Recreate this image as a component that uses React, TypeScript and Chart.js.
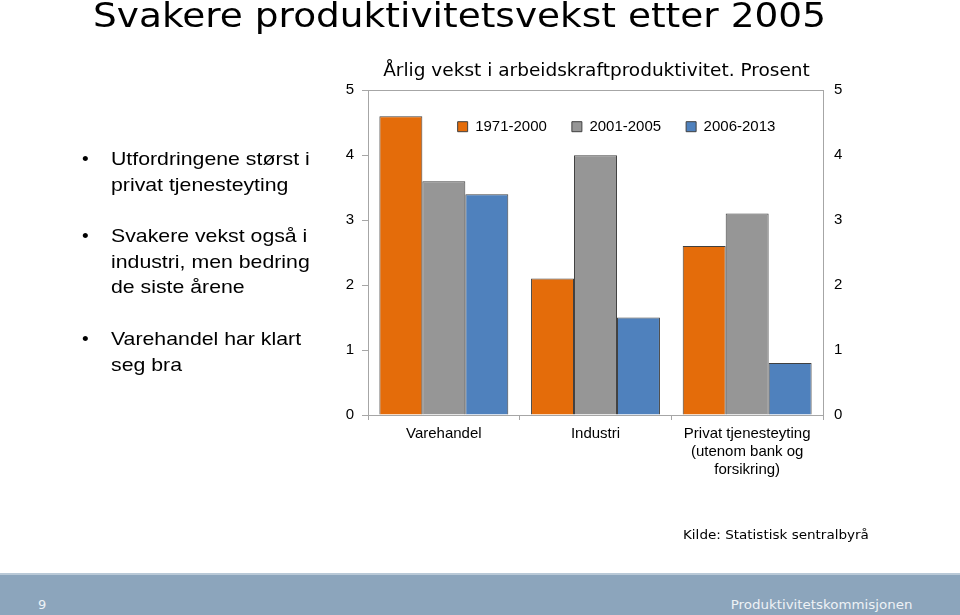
import React, { useEffect, useRef } from "react";
import { Chart, registerables } from "chart.js";

Chart.register(...registerables);

// ---- Data ----
const categories: (string | string[])[] = [
  "Varehandel",
  "Industri",
  ["Privat tjenesteyting", "(utenom bank og", "forsikring)"],
];
const seriesLabels = ["1971-2000", "2001-2005", "2006-2013"];
const values1971_2000 = [4.6, 2.1, 2.6];
const values2001_2005 = [3.6, 4.0, 3.1];
const values2006_2013 = [3.4, 1.5, 0.8];
const yTickValues = [0, 1, 2, 3, 4, 5];

const chartTitle = "Årlig vekst i arbeidskraftproduktivitet. Prosent";
const slideTitle = "Svakere produktivitetsvekst etter 2005";
const bulletLines = [
  "Utfordringene størst i",
  "privat tjenesteyting",
  "",
  "Svakere vekst også i",
  "industri, men bedring",
  "de siste årene",
  "",
  "Varehandel har klart",
  "seg bra",
];
const bulletMarks = ["•", "", "", "•", "", "", "", "•", ""];
const sourceText = "Kilde: Statistisk sentralbyrå";
const pageNumber = "9";
const footerText = "Produktivitetskommisjonen";

const AXIS_GRAY = "#a6a6a6";
const BAR_BORDER = "#404040";
const SANS = "'Liberation Sans', Arial, sans-serif";
const VERD = "'DejaVu Sans', Verdana, sans-serif";

// Legend sits inside the plot area as one horizontal row
const legendInside = {
  id: "legendInside",
  beforeLayout(chart: any) {
    const l = chart.legend;
    if (l) l.isHorizontal = () => true;
  },
  afterLayout(chart: any) {
    const l = chart.legend;
    if (!l) return;
    const ca = chart.chartArea;
    l.left = ca.left + 42;
    l.right = ca.right;
    l.width = l.right - l.left;
    l.top = ca.top + 4;
  },
};

export default function App() {
  const canvasRef = useRef<HTMLCanvasElement | null>(null);

  useEffect(() => {
    if (!canvasRef.current) return;
    Chart.defaults.font.family = SANS;
    const tickSetter = (s: any) => {
      s.ticks = yTickValues.map((v) => ({ value: v }));
    };
    const chart = new Chart(canvasRef.current, {
      type: "bar",
      data: {
        labels: categories as any,
        datasets: [
          {
            label: seriesLabels[0],
            data: values1971_2000,
            backgroundColor: "#E46C0A",
            borderColor: BAR_BORDER,
            borderWidth: 1,
            yAxisID: "y",
          },
          {
            label: seriesLabels[1],
            data: values2001_2005,
            backgroundColor: "#969696",
            borderColor: BAR_BORDER,
            borderWidth: 1,
            yAxisID: "y",
          },
          {
            label: seriesLabels[2],
            data: values2006_2013,
            backgroundColor: "#4F81BD",
            borderColor: BAR_BORDER,
            borderWidth: 1,
            yAxisID: "y",
          },
        ],
      },
      options: {
        responsive: false,
        animation: false,
        layout: { padding: { left: 330, right: 97, top: 54, bottom: 100 } },
        datasets: { bar: { categoryPercentage: 0.85, barPercentage: 1 } },
        plugins: {
          title: {
            display: true,
            text: chartTitle,
            color: "#000",
            font: { family: VERD, size: 18.5, weight: "normal" },
            padding: { top: 6, bottom: 8 },
          },
          legend: {
            position: "chartArea",
            align: "center",
            labels: {
              boxWidth: 10,
              boxHeight: 10,
              padding: 25,
              color: "#000",
              font: { family: SANS, size: 15 },
            },
          },
          tooltip: { enabled: false },
        },
        scales: {
          x: {
            grid: {
              drawOnChartArea: false,
              offset: true,
              tickLength: 5,
              color: AXIS_GRAY,
            },
            border: { color: AXIS_GRAY },
            ticks: {
              color: "#000",
              font: { family: SANS, size: 15 },
              padding: 5,
              maxRotation: 0,
              autoSkip: false,
            },
            afterFit: (s: any) => {
              s.height = 100;
            },
          },
          y: {
            position: "left",
            min: 0,
            max: 5,
            afterBuildTicks: tickSetter,
            ticks: { color: "#000", font: { family: SANS, size: 15 }, padding: 8 },
            grid: {
              color: (ctx: any) =>
                ctx.tick && ctx.tick.value === 5 ? AXIS_GRAY : "rgba(0,0,0,0)",
              tickColor: AXIS_GRAY,
              tickLength: 6,
            },
            border: { color: AXIS_GRAY },
            afterFit: (s: any) => {
              s.width = 38;
            },
          },
          y2: {
            position: "right",
            min: 0,
            max: 5,
            afterBuildTicks: tickSetter,
            ticks: { color: "#000", font: { family: SANS, size: 15 }, padding: 5 },
            grid: {
              drawOnChartArea: false,
              tickColor: "rgba(0,0,0,0)",
              tickLength: 6,
            },
            border: { color: AXIS_GRAY },
            afterFit: (s: any) => {
              s.width = 40;
            },
          },
        },
      } as any,
      plugins: [legendInside as any],
    });
    return () => chart.destroy();
  }, []);

  return (
    <div
      style={{
        position: "fixed",
        left: 0,
        top: 0,
        width: 960,
        height: 615,
        overflow: "hidden",
        background: "#fff",
      }}
    >
      <canvas
        ref={canvasRef}
        width={960}
        height={615}
        style={{ position: "absolute", left: 0, top: 0, width: 960, height: 615 }}
      />
      <div
        style={{
          position: "absolute",
          left: 93,
          top: -1,
          fontFamily: VERD,
          fontSize: 33,
          lineHeight: "33px",
          whiteSpace: "nowrap",
          color: "#000",
          transform: "scaleX(1.135)",
          transformOrigin: "left top",
        }}
      >
        {slideTitle}
      </div>
      <div
        style={{
          position: "absolute",
          left: 82,
          top: 146,
          fontFamily: SANS,
          fontSize: 19,
          lineHeight: "25.7px",
          whiteSpace: "pre",
          color: "#000",
        }}
      >
        {bulletMarks.map((b, i) => (
          <div key={i} style={{ height: 25.7 }}>
            {b}
          </div>
        ))}
      </div>
      <div
        style={{
          position: "absolute",
          left: 111,
          top: 146,
          fontFamily: SANS,
          fontSize: 19,
          lineHeight: "25.7px",
          whiteSpace: "pre",
          color: "#000",
          transform: "scaleX(1.12)",
          transformOrigin: "left top",
        }}
      >
        {bulletLines.map((t, i) => (
          <div key={i} style={{ height: 25.7 }}>
            {t}
          </div>
        ))}
      </div>
      <div
        style={{
          position: "absolute",
          left: 683,
          top: 528,
          fontFamily: VERD,
          fontSize: 13,
          lineHeight: "13px",
          whiteSpace: "nowrap",
          color: "#000",
          transform: "scaleX(1.04)",
          transformOrigin: "left top",
        }}
      >
        {sourceText}
      </div>
      <div
        style={{
          position: "absolute",
          left: 0,
          top: 573,
          width: 960,
          height: 42,
          background: "#8CA5BC",
          borderTop: "2px solid #b9c9d7",
          boxSizing: "border-box",
        }}
      />
      <div
        style={{
          position: "absolute",
          left: 38,
          top: 598,
          fontFamily: VERD,
          fontSize: 13,
          lineHeight: "13px",
          color: "#eef2f6",
        }}
      >
        {pageNumber}
      </div>
      <div
        style={{
          position: "absolute",
          right: 48,
          top: 598,
          fontFamily: VERD,
          fontSize: 13,
          lineHeight: "13px",
          whiteSpace: "nowrap",
          color: "#eef2f6",
          transform: "scaleX(1.03)",
          transformOrigin: "right top",
        }}
      >
        {footerText}
      </div>
    </div>
  );
}
